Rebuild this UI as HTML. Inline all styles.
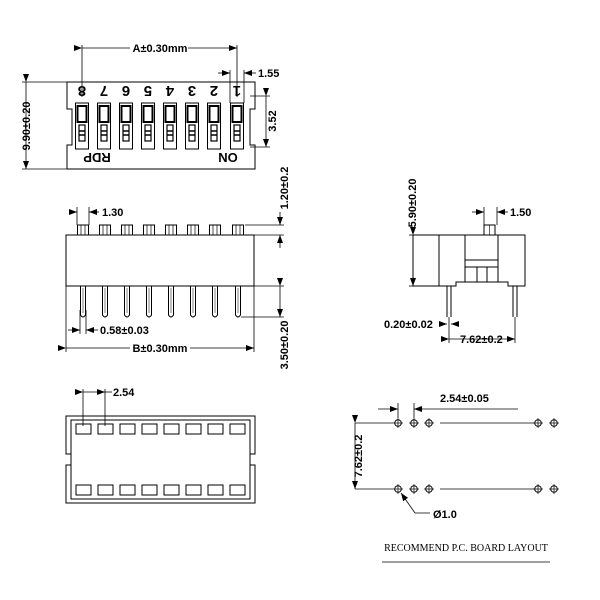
<!DOCTYPE html>
<html><head><meta charset="utf-8"><style>body{margin:0;background:#fff}svg{display:block}text{font-family:"Liberation Sans",sans-serif;font-weight:bold;fill:#000}</style></head><body>
<svg width="600" height="600" viewBox="0 0 600 600" xmlns="http://www.w3.org/2000/svg">
<defs>
<marker id="ar" markerWidth="8" markerHeight="6" refX="8" refY="3" orient="auto" markerUnits="userSpaceOnUse"><path d="M0,0 L8,3 L0,6z" fill="#000"/></marker>
<g id="sw"><rect x="-6.5" y="103" width="13" height="46" fill="none" stroke="#000" stroke-width="1"/><rect x="-4.5" y="106" width="9" height="16" fill="none" stroke="#000" stroke-width="2"/><rect x="-3" y="125" width="6" height="16" fill="none" stroke="#000" stroke-width="1.2"/><line x1="-3" y1="131" x2="3" y2="131" stroke="#000" stroke-width="1.5"/><line x1="-3" y1="135" x2="3" y2="135" stroke="#000" stroke-width="1.5"/></g>
<g id="act"><rect x="-5.5" y="225" width="11" height="10" fill="none" stroke="#000"/><line x1="-2" y1="225" x2="-2" y2="235" stroke="#000" stroke-width=".7"/><line x1="2" y1="225" x2="2" y2="235" stroke="#000" stroke-width=".7"/></g>
<g id="pin"><path d="M-2.5,286 V315 Q0,319 2.5,315 V286" fill="none" stroke="#000"/><line x1="0" y1="288" x2="0" y2="313" stroke="#000" stroke-width=".5"/></g>
<g id="hole"><circle r="3.3" fill="none" stroke="#000"/><line x1="-5" y1="0" x2="5" y2="0" stroke="#000" stroke-width=".7"/><line x1="0" y1="-5" x2="0" y2="5" stroke="#000" stroke-width=".7"/></g>
</defs>
<g fill="none" stroke="#000" stroke-width="1">
<!-- top view -->
<path d="M67,82 H255 V109 H250 V145 H255 V169 H67 V145 H72 V109 H67 Z"/>
<line x1="82" y1="45" x2="82" y2="97" stroke-width=".8"/><line x1="237" y1="45" x2="237" y2="97" stroke-width=".8"/>
<line x1="82" y1="48" x2="237" y2="48" marker-start="url(#ar)" marker-end="url(#ar)" stroke-width=".8"/>
<line x1="230" y1="70" x2="230" y2="103" stroke-width=".8"/><line x1="244" y1="70" x2="244" y2="103" stroke-width=".8"/>
<line x1="218" y1="73" x2="230" y2="73" marker-end="url(#ar)" stroke-width=".8"/><line x1="256" y1="73" x2="244" y2="73" marker-end="url(#ar)" stroke-width=".8"/>
<line x1="22" y1="82" x2="67" y2="82" stroke-width=".8"/><line x1="22" y1="169" x2="67" y2="169" stroke-width=".8"/>
<line x1="26" y1="82" x2="26" y2="169" marker-start="url(#ar)" marker-end="url(#ar)" stroke-width=".8"/>
<line x1="250" y1="96" x2="270" y2="96" stroke-width=".8"/><line x1="250" y1="147" x2="270" y2="147" stroke-width=".8"/>
<line x1="266" y1="96" x2="266" y2="147" marker-start="url(#ar)" marker-end="url(#ar)" stroke-width=".8"/>
<!-- side view -->
<rect x="66" y="235" width="188" height="51"/>
<line x1="66" y1="286" x2="254" y2="286"/>
<line x1="72" y1="212" x2="77" y2="212" marker-end="url(#ar)" stroke-width=".8"/><line x1="99" y1="212" x2="89" y2="212" marker-end="url(#ar)" stroke-width=".8"/>
<line x1="77" y1="207" x2="77" y2="225" stroke-width=".8"/><line x1="89" y1="207" x2="89" y2="225" stroke-width=".8"/>
<line x1="245" y1="225" x2="284" y2="225" stroke-width=".8"/><line x1="254" y1="235" x2="284" y2="235" stroke-width=".8"/>
<line x1="280" y1="212" x2="280" y2="225" marker-end="url(#ar)" stroke-width=".8"/><line x1="280" y1="248" x2="280" y2="235" marker-end="url(#ar)" stroke-width=".8"/>
<line x1="254" y1="286" x2="284" y2="286" stroke-width=".8"/><line x1="241" y1="317" x2="284" y2="317" stroke-width=".8"/>
<line x1="280" y1="286" x2="280" y2="317" marker-start="url(#ar)" marker-end="url(#ar)" stroke-width=".8"/>
<line x1="80" y1="310" x2="80" y2="334" stroke-width=".8"/><line x1="86" y1="310" x2="86" y2="334" stroke-width=".8"/>
<line x1="68" y1="330" x2="80" y2="330" marker-end="url(#ar)" stroke-width=".8"/><line x1="98" y1="330" x2="86" y2="330" marker-end="url(#ar)" stroke-width=".8"/>
<line x1="66" y1="286" x2="66" y2="352" stroke-width=".8"/><line x1="254" y1="286" x2="254" y2="352" stroke-width=".8"/>
<line x1="66" y1="348" x2="254" y2="348" marker-start="url(#ar)" marker-end="url(#ar)" stroke-width=".8"/>
<!-- right view -->
<path d="M413,235 H525 V286 H508 V282 H456 V286 H413 Z"/>
<line x1="439" y1="235" x2="439" y2="286"/>
<path d="M465,235 V282 M498,235 V282 M465,260 H498 M465,267 H498 M477,267 V282 M487,267 V282"/>
<rect x="484" y="225" width="11" height="10"/><line x1="489.5" y1="225" x2="489.5" y2="235" stroke-width=".6"/>
<path d="M447,286 V317 M451,286 V317 M513,286 V317 M517,286 V317"/>
<line x1="409" y1="235" x2="413" y2="235" stroke-width=".8"/><line x1="409" y1="286" x2="413" y2="286" stroke-width=".8"/>
<line x1="413" y1="235" x2="413" y2="286" marker-start="url(#ar)" marker-end="url(#ar)" stroke-width=".8"/>
<line x1="484" y1="207" x2="484" y2="225" stroke-width=".8"/><line x1="497" y1="207" x2="497" y2="225" stroke-width=".8"/>
<line x1="472" y1="212" x2="484" y2="212" marker-end="url(#ar)" stroke-width=".8"/><line x1="508" y1="212" x2="497" y2="212" marker-end="url(#ar)" stroke-width=".8"/>
<line x1="441" y1="324" x2="447" y2="324" marker-end="url(#ar)" stroke-width=".8"/><line x1="458" y1="324" x2="451" y2="324" marker-end="url(#ar)" stroke-width=".8"/>
<line x1="449" y1="317" x2="449" y2="343" stroke-width=".8"/><line x1="515" y1="317" x2="515" y2="343" stroke-width=".8"/>
<line x1="449" y1="339" x2="515" y2="339" marker-start="url(#ar)" marker-end="url(#ar)" stroke-width=".8"/>
<!-- bottom view -->
<path d="M66,416 H255 V454 H250 V465 H255 V503 H66 V465 H71 V454 H66 Z"/>
<rect x="71" y="420" width="179" height="79"/>
<line x1="83" y1="389" x2="83" y2="426" stroke-width=".8"/><line x1="105" y1="389" x2="105" y2="426" stroke-width=".8"/>
<line x1="83" y1="392" x2="105" y2="392" marker-start="url(#ar)" marker-end="url(#ar)" stroke-width=".8"/>
<line x1="105" y1="392" x2="112" y2="392" stroke-width=".8"/>
<!-- PCB -->
<line x1="440" y1="423" x2="534" y2="423" stroke-width=".8"/><line x1="440" y1="489" x2="534" y2="489" stroke-width=".8"/>
<line x1="398" y1="403" x2="398" y2="418" stroke-width=".8"/><line x1="414" y1="403" x2="414" y2="418" stroke-width=".8"/>
<line x1="378" y1="409" x2="398" y2="409" marker-end="url(#ar)" stroke-width=".8"/><line x1="518" y1="409" x2="414" y2="409" marker-end="url(#ar)" stroke-width=".8"/>
<line x1="355" y1="423" x2="393" y2="423" stroke-width=".8"/><line x1="355" y1="489" x2="393" y2="489" stroke-width=".8"/>
<line x1="355" y1="423" x2="355" y2="489" marker-start="url(#ar)" marker-end="url(#ar)" stroke-width=".8"/>
<polyline points="430,513 415,513 401,493" marker-end="url(#ar)" stroke-width=".8"/>
<line x1="382" y1="562" x2="550" y2="562" stroke-width=".8"/>
</g>
<use href="#sw" x="82"/><use href="#sw" x="104"/><use href="#sw" x="126"/><use href="#sw" x="148"/><use href="#sw" x="170"/><use href="#sw" x="192"/><use href="#sw" x="214"/><use href="#sw" x="237"/>
<g font-size="15">
<text transform="translate(82,86) rotate(180)" text-anchor="middle">8</text><text transform="translate(104,86) rotate(180)" text-anchor="middle">7</text><text transform="translate(126,86) rotate(180)" text-anchor="middle">6</text><text transform="translate(148,86) rotate(180)" text-anchor="middle">5</text><text transform="translate(170,86) rotate(180)" text-anchor="middle">4</text><text transform="translate(192,86) rotate(180)" text-anchor="middle">3</text><text transform="translate(214,86) rotate(180)" text-anchor="middle">2</text><text transform="translate(237,86) rotate(180)" text-anchor="middle">1</text>
</g>
<text transform="translate(97,153) rotate(180)" text-anchor="middle" font-size="13">RDP</text>
<text transform="translate(228,153) rotate(180)" text-anchor="middle" font-size="13">ON</text>
<g font-size="11">
<rect x="130" y="42" width="58" height="12" fill="#fff"/>
<text x="160" y="52" text-anchor="middle">A±0.30mm</text>
<text x="258" y="77">1.55</text>
<text transform="translate(30,126) rotate(-90)" text-anchor="middle">9.90±0.20</text>
<text transform="translate(276,121) rotate(-90)" text-anchor="middle">3.52</text>
<text x="102" y="216">1.30</text>
<text transform="translate(288,188) rotate(-90)" text-anchor="middle">1.20±0.2</text>
<text transform="translate(288,345) rotate(-90)" text-anchor="middle">3.50±0.20</text>
<text x="100" y="334">0.58±0.03</text>
<rect x="130" y="342" width="60" height="12" fill="#fff"/>
<text x="160" y="352" text-anchor="middle">B±0.30mm</text>
<text transform="translate(416,203) rotate(-90)" text-anchor="middle">5.90±0.20</text>
<text x="510" y="216">1.50</text>
<text x="384" y="328">0.20±0.02</text>
<text x="460" y="343">7.62±0.2</text>
<text x="113" y="396">2.54</text>
<text x="440" y="402">2.54±0.05</text>
<text transform="translate(362,456) rotate(-90)" text-anchor="middle">7.62±0.2</text>
<text x="433" y="518">Ø1.0</text>
</g>
<text x="466" y="551" text-anchor="middle" font-size="10" style="font-family:'Liberation Serif',serif;font-weight:normal">RECOMMEND P.C. BOARD LAYOUT</text>
<use href="#act" x="83"/><use href="#act" x="105"/><use href="#act" x="127"/><use href="#act" x="149"/><use href="#act" x="171"/><use href="#act" x="193"/><use href="#act" x="215"/><use href="#act" x="238"/>
<use href="#pin" x="83"/><use href="#pin" x="105"/><use href="#pin" x="127"/><use href="#pin" x="149"/><use href="#pin" x="171"/><use href="#pin" x="193"/><use href="#pin" x="215"/><use href="#pin" x="238"/>
<g fill="none" stroke="#000">
<rect x="76" y="424" width="15" height="10"/><rect x="98" y="424" width="15" height="10"/><rect x="120" y="424" width="15" height="10"/><rect x="142" y="424" width="15" height="10"/><rect x="164" y="424" width="15" height="10"/><rect x="186" y="424" width="15" height="10"/><rect x="208" y="424" width="15" height="10"/><rect x="230" y="424" width="15" height="10"/>
<rect x="76" y="485" width="15" height="10"/><rect x="98" y="485" width="15" height="10"/><rect x="120" y="485" width="15" height="10"/><rect x="142" y="485" width="15" height="10"/><rect x="164" y="485" width="15" height="10"/><rect x="186" y="485" width="15" height="10"/><rect x="208" y="485" width="15" height="10"/><rect x="230" y="485" width="15" height="10"/>
</g>
<use href="#hole" x="398" y="423"/><use href="#hole" x="414" y="423"/><use href="#hole" x="429" y="423"/><use href="#hole" x="538" y="423"/><use href="#hole" x="554" y="423"/>
<use href="#hole" x="398" y="489"/><use href="#hole" x="414" y="489"/><use href="#hole" x="429" y="489"/><use href="#hole" x="538" y="489"/><use href="#hole" x="554" y="489"/>
</svg>
</body></html>
